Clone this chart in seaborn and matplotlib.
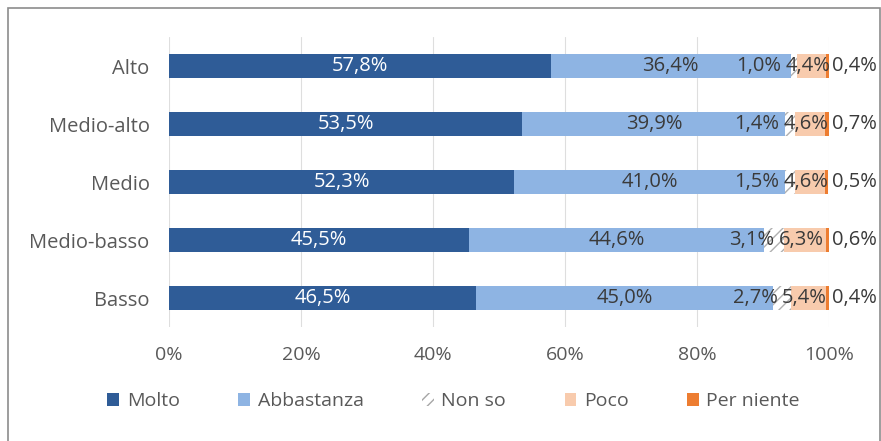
import numpy as np
import pandas as pd
import matplotlib
matplotlib.use("Agg")
import matplotlib.pyplot as plt
from matplotlib.patches import Patch, Rectangle
import seaborn as sns

# Data
categories = ["Alto", "Medio-alto", "Medio", "Medio-basso", "Basso"]
series = ["Molto", "Abbastanza", "Non so", "Poco", "Per niente"]
molto = [57.8, 53.5, 52.3, 45.5, 46.5]
abbastanza = [36.4, 39.9, 41.0, 44.6, 45.0]
non_so = [1.0, 1.4, 1.5, 3.1, 2.7]
poco = [4.4, 4.6, 4.6, 6.3, 5.4]
per_niente = [0.4, 0.7, 0.5, 0.6, 0.4]
xticks = [0, 20, 40, 60, 80, 100]

colors = ["#2F5C97", "#8EB4E3", "#FFFFFF", "#F8CBAD", "#ED7D31"]

sns.set_theme(style="white")
plt.rcParams["font.family"] = ["Open Sans", "DejaVu Sans"]
plt.rcParams["hatch.linewidth"] = 1.0

df = pd.DataFrame({"cat": categories, "Molto": molto, "Abbastanza": abbastanza,
                   "Non so": non_so, "Poco": poco, "Per niente": per_niente})
cum = df[series].cumsum(axis=1)

fig = plt.figure(figsize=(8.81, 4.41), dpi=100)
ax = fig.add_axes([0.192, 0.2585, 0.749, 0.6575])

# grid lines behind bars
for t in xticks:
    ax.axvline(t, color="#DEDEDE", lw=0.8, zorder=0)

# stacked bars: draw cumulative totals from right to left
for i in range(len(series) - 1, -1, -1):
    s = series[i]
    kw = dict(linewidth=0)
    if s == "Non so":
        kw = dict(edgecolor="#B0B0B0", hatch="///", linewidth=0)
    sns.barplot(data=cum.assign(cat=categories), x=s, y=categories, orient="h",
                color=colors[i], saturation=1, width=0.4, ax=ax, zorder=2, **kw)

text_col = "#3A3A3A"
fs = 14.5
fmt = lambda v: f"{v:.1f}%".replace(".", ",")
for j, c in enumerate(categories):
    starts = [0] + list(cum.iloc[j, :-1])
    vals = df.loc[j, series].tolist()
    # Molto
    ax.text(starts[0] + vals[0] / 2, j, fmt(vals[0]),
            ha="center", va="center", color="white", fontsize=fs, zorder=5)
    # Abbastanza
    ax.text(starts[1] + vals[1] / 2, j, fmt(vals[1]),
            ha="center", va="center", color=text_col, fontsize=fs, zorder=5)
    # Poco
    pc = starts[3] + vals[3] / 2
    ax.text(pc - 0.6, j, fmt(vals[3]),
            ha="center", va="center", color=text_col, fontsize=fs, zorder=5)
    # Non so (shifted left to avoid overlap)
    ax.text(pc - 4.6, j, fmt(vals[2]),
            ha="right", va="center", color=text_col, fontsize=fs, zorder=5)
    # Per niente (right of the bar)
    ax.text(100.4, j, fmt(vals[4]),
            ha="left", va="center", color=text_col, fontsize=fs, zorder=5)

ax.set_xlim(0, 100)
ax.set_ylim(4.5, -0.5)
ax.set_xticks(xticks)
ax.set_xticklabels([f"{t}%" for t in xticks], color="#595959", fontsize=14)
ax.tick_params(axis="x", length=0, pad=14)
ax.tick_params(axis="y", length=0, pad=14, labelsize=14.5, labelcolor="#595959")
ax.set_xlabel("")
ax.set_ylabel("")
for sp in ax.spines.values():
    sp.set_visible(False)

handles = [
    Patch(facecolor=colors[0], edgecolor="none"),
    Patch(facecolor=colors[1], edgecolor="none"),
    Patch(facecolor="white", edgecolor="#A6A6A6", hatch="///", linewidth=0),
    Patch(facecolor=colors[3], edgecolor="none"),
    Patch(facecolor=colors[4], edgecolor="none"),
]
fig.legend(handles, series, loc="center", bbox_to_anchor=(0.515, 0.09), ncol=5,
           frameon=False, handlelength=0.6, handleheight=0.6, handletextpad=0.4,
           columnspacing=3.0, prop={"size": 14}, labelcolor="#595959")

# outer chart border
fig.patches.append(Rectangle((0.009, -0.01), 0.99, 0.992, transform=fig.transFigure,
                             fill=False, edgecolor="#8C8C8C", lw=1.2))

fig.savefig("out.png", dpi=100)
